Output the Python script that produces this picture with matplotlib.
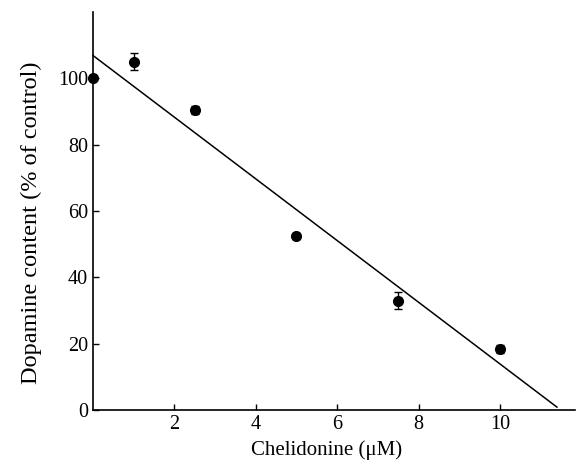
import numpy as np
import matplotlib
matplotlib.use("Agg")
import matplotlib.pyplot as plt

plt.rcParams['font.family'] = ['Liberation Serif', 'DejaVu Serif']

# Data
conc = [0, 1, 2.5, 5, 7.5, 10]
dopamine = [100, 105, 90.5, 52.5, 33, 18.5]
err = [0, 2.5, 1.2, 0.8, 2.5, 1.2]

# Linear regression
slope, intercept = np.polyfit(conc, dopamine, 1)
fit_x = np.array([0, 11.4])
fit_y = intercept + slope * fit_x

fig = plt.figure(figsize=(5.77, 4.73), dpi=100)
ax = fig.add_axes([0.161, 0.133, 0.836, 0.842])

ax.plot(fit_x, fit_y, color='black', lw=1.1, clip_on=False)
ax.errorbar(conc, dopamine, yerr=err, fmt='o', color='black', ms=7,
            capsize=3, elinewidth=1, capthick=1, clip_on=False, zorder=3)

ax.set_xlim(0, 11.85)
ax.set_ylim(0, 120)
ax.set_xticks([2, 4, 6, 8, 10])
ax.set_yticks([0, 20, 40, 60, 80, 100])
ax.tick_params(direction='in', length=4, width=1, labelsize=14.5)
ax.spines['top'].set_visible(False)
ax.spines['right'].set_visible(False)
for s in ['left', 'bottom']:
    ax.spines[s].set_linewidth(1.2)

ax.set_xlabel('Chelidonine (\u03bcM)', fontsize=15)
ax.xaxis.set_label_coords(0.485, -0.075)
ax.set_ylabel('Dopamine content (% of control)', fontsize=17.5)
ax.yaxis.set_label_coords(-0.105, 0.47)

fig.savefig('out.png', dpi=100)
